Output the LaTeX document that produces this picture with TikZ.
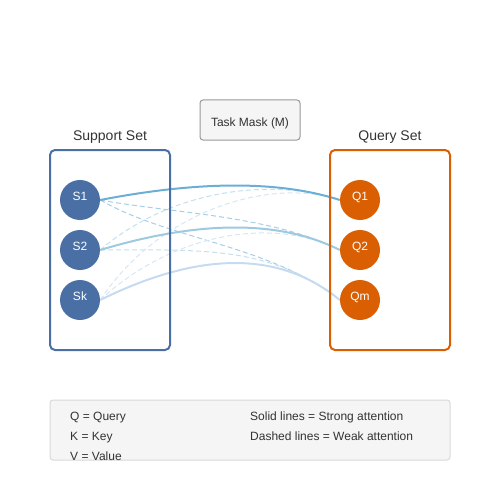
\documentclass[tikz,border=0pt]{standalone}
\usepackage{fontspec}
\setmainfont{Liberation Sans}
\usepackage{tikz}
\usetikzlibrary{positioning, backgrounds}

\definecolor{setblue}{HTML}{4A6FA5}
\definecolor{setorange}{HTML}{D95F02}
\definecolor{attn1}{HTML}{6BAED6}
\definecolor{attn2}{HTML}{9ECAE1}
\definecolor{attn3}{HTML}{C6DBEF}
\definecolor{txtgray}{HTML}{333333}
\definecolor{boxfill}{HTML}{F5F5F5}

\tikzset{
    snode/.style={circle, fill=setblue, text=white, minimum size=40pt, inner sep=0pt,
        text height=6pt, text depth=6pt, font=\fontsize{12}{14}\selectfont},
    qnode/.style={snode, fill=setorange},
    setbox/.style={rectangle, rounded corners=5pt, line width=2pt, minimum width=120pt, minimum height=200pt},
    setlabel/.style={anchor=base, text=txtgray, font=\fontsize{14}{16}\selectfont},
    maskbox/.style={rectangle, rounded corners=3pt, draw=gray!80, fill=boxfill, line width=1pt,
        minimum width=100pt, minimum height=40pt, text=txtgray, text height=12pt, text depth=0pt,
        font=\fontsize{12}{14}\selectfont},
    legendbox/.style={rectangle, rounded corners=3pt, draw=gray!30, fill=boxfill, line width=1pt,
        minimum width=400pt, minimum height=60pt},
    legend/.style={anchor=base west, inner sep=0pt, text=txtgray, font=\fontsize{12}{14}\selectfont},
    strong/.style={line width=2pt},
    weak/.style={line width=1pt, dash pattern=on 5pt off 3pt}
}

\begin{document}
\begin{tikzpicture}[x=1pt,y=-1pt,node distance=50pt,on grid]
    \useasboundingbox (0,0) rectangle (500,500);
    \node[snode] (s_1) at (80,200) {S1};
    \node[snode] (s_2) [below=of s_1] {S2};
    \node[snode] (s_k) [below=of s_2] {Sk};
    \node[qnode] (q_1) [right=280pt of s_1] {Q1};
    \node[qnode] (q_2) [below=of q_1] {Q2};
    \node[qnode] (q_m) [below=of q_2] {Qm};
    \node[setlabel] (support_label) at (110,140.5) {Support Set};
    \node[setlabel] (query_label) at (390,140.5) {Query Set};
    \node[maskbox] (mask) at (250,120) {Task Mask (M)};
    \begin{pgfonlayer}{background}
        \draw[weak, attn1!60] (s_1.east) .. controls (170,213) and (270,215) .. (q_2.west);
        \draw[weak, attn1!60] (s_1.east) .. controls (170,240) and (270,245) .. (q_m.west);
        \draw[weak, attn2!60] (s_2.east) .. controls (170,190) and (270,177) .. (q_1.west);
        \draw[weak, attn2!60] (s_2.east) .. controls (200,250) and (270,245) .. (q_m.west);
        \draw[weak, attn3!70] (s_k.east) .. controls (160,210) and (270,177) .. (q_1.west);
        \draw[weak, attn3!70] (s_k.east) .. controls (170,235) and (270,215) .. (q_2.west);
        \draw[strong, attn1] (s_1.east) .. controls (200,180.7) and (280,180.7) .. (q_1.west);
        \draw[strong, attn2] (s_2.east) .. controls (200,220) and (280,220) .. (q_2.west);
        \draw[strong, attn3] (s_k.east) .. controls (200,250.7) and (280,250.7) .. (q_m.west);
        \node[setbox, draw=setblue] (support) at (110,250) {};
        \node[setbox, draw=setorange] (query) at (390,250) {};
    \end{pgfonlayer}
    \node[legendbox] (key) at (250,430) {};
    \node[legend] (key_q) at (70,420.5) {Q = Query};
    \node[legend] (key_k) at (70,440.5) {K = Key};
    \node[legend] (key_v) at (70,460.5) {V = Value};
    \node[legend] (key_solid) at (250,420.5) {Solid lines = Strong attention};
    \node[legend] (key_dashed) at (250,440.5) {Dashed lines = Weak attention};
\end{tikzpicture}
\end{document}
